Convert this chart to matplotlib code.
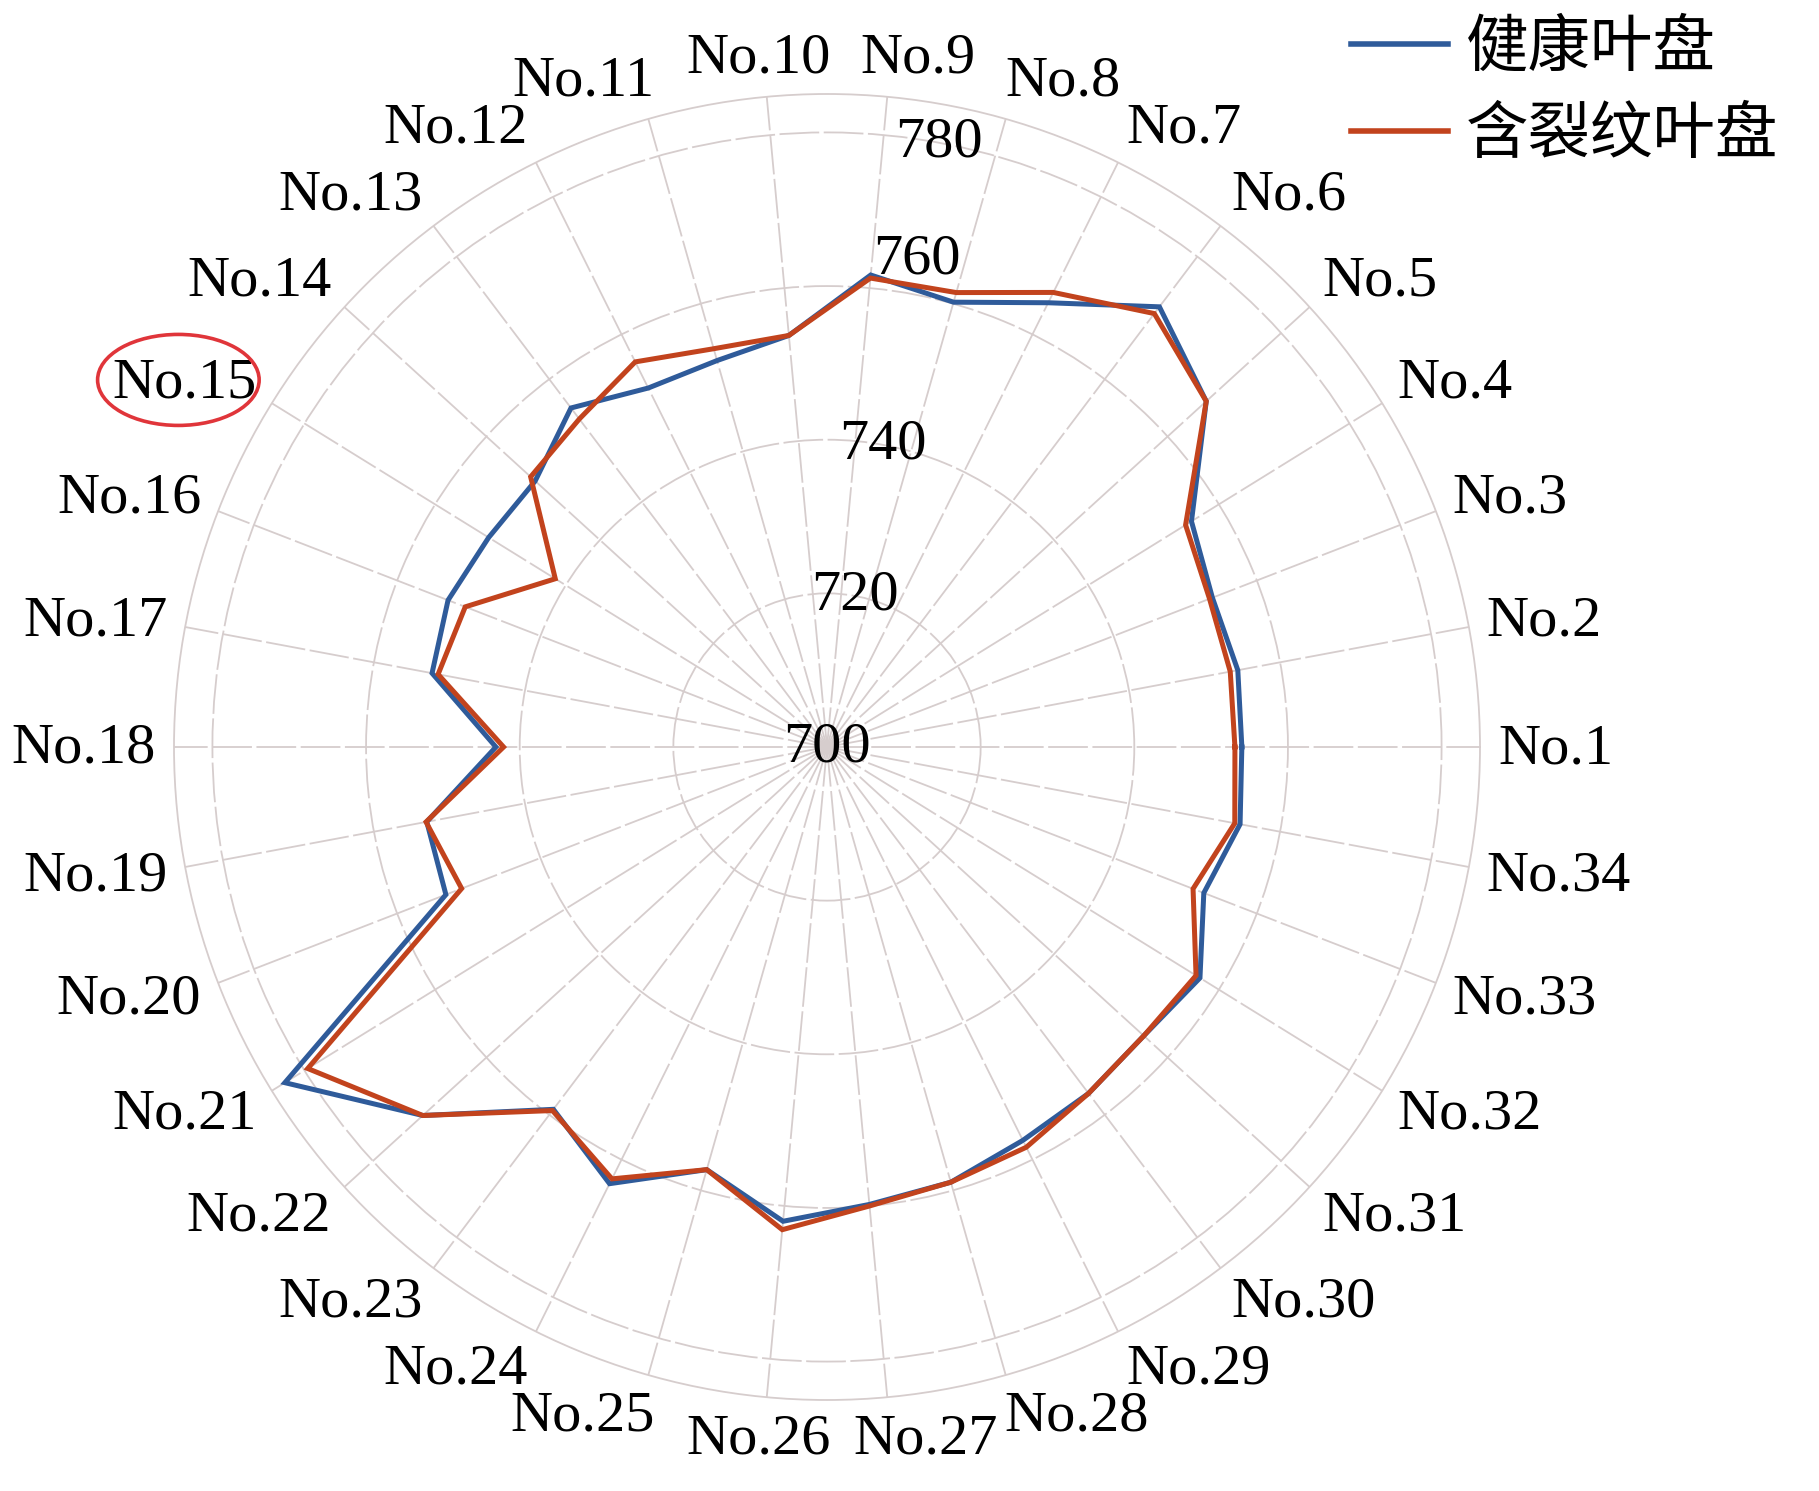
import numpy as np
import matplotlib
matplotlib.use("Agg")
import matplotlib.pyplot as plt
from matplotlib.patches import Ellipse

# ---------------- data ----------------
categories = [f"No.{i}" for i in range(1, 35)]
healthy = [754.0, 754.4, 753.8, 755.8, 766.8, 771.8, 764.6, 760.2, 761.7, 753.8,
           752.3, 752.2, 755.3, 751.4, 751.8, 752.9, 752.3, 743.1, 753.0, 753.2,
           783.0, 771.2, 759.1, 763.5, 757.2, 762.0, 759.8, 758.9, 757.2, 756.5,
           755.8, 757.1, 752.6, 754.7]
cracked = [753.1, 753.4, 753.4, 754.9, 766.8, 770.7, 766.1, 761.5, 761.3, 753.8,
           753.9, 756.0, 753.5, 752.2, 741.6, 750.5, 751.5, 742.1, 753.1, 751.0,
           779.5, 771.2, 759.3, 762.8, 757.2, 763.1, 760.0, 758.9, 758.2, 756.5,
           755.8, 756.5, 751.1, 754.0]
series_names = ["健康叶盘", "含裂纹叶盘"]
r_ticks = [700, 720, 740, 760, 780]
r_min, r_max = 700, 785
highlight = "No.15"

SERIF = ["Liberation Serif", "DejaVu Serif"]
CJK = ["Noto Sans CJK SC", "DejaVu Sans"]
BLUE = "#2f5b9a"
RED = "#c2431d"
GRID = "#d6cdcd"

W, H, DPI = 1819, 1491, 100
fig = plt.figure(figsize=(W / DPI, H / DPI), dpi=DPI)
cx, cy, R = 827, 747, 653
ax = fig.add_axes([(cx - R) / W, (H - cy - R) / H, 2 * R / W, 2 * R / H],
                  projection="polar")

n = len(categories)
angles = np.arange(n) * 2 * np.pi / n
ang_c = np.append(angles, angles[0])

ax.plot(ang_c, healthy + healthy[:1], color=BLUE, lw=3.6, label=series_names[0],
        solid_joinstyle="miter", zorder=3)
ax.plot(ang_c, cracked + cracked[:1], color=RED, lw=3.6, label=series_names[1],
        solid_joinstyle="miter", zorder=4)

ax.set_ylim(r_min, r_max)
ax.set_xticks(angles)
ax.set_xticklabels([])
ax.set_yticks(r_ticks[1:])
ax.set_yticklabels([])
ax.grid(True, color=GRID, lw=1.3, ls=(0, (22, 2.5)))
ax.spines["polar"].set_color(GRID)
ax.spines["polar"].set_linewidth(1.3)
ax.tick_params(length=0)

# radial labels
rl_ang = np.deg2rad(79.5)
for v in r_ticks:
    rr = v + 4.5 if v == 760 else v
    if v == r_min:
        ax.text(0, v, str(v), ha="center", va="center", fontsize=42,
                family=SERIF, zorder=5)
    else:
        ax.text(rl_ang, rr, str(v), ha="center", va="center", fontsize=42,
                family=SERIF, zorder=5)

# category labels
fig.canvas.draw()
renderer = fig.canvas.get_renderer()
pad = 18
h_txt = 45
hl_text = None
for ang, lab in zip(angles, categories):
    t = ax.annotate(lab, xy=(ang, r_max), xycoords="data", xytext=(0, 0),
                    textcoords="offset pixels", ha="center", va="center_baseline",
                    fontsize=42, family=SERIF, annotation_clip=False)
    w = t.get_window_extent(renderer).width
    c, s = np.cos(ang), np.sin(ang)
    g = np.clip(3.2 * c, -1, 1)
    f = g + 0.3 * (1 - abs(g))
    dx = c * pad + f * w / 2
    dy = s * (pad + h_txt / 2) + 4
    t.xyann = (dx, dy)
    if lab == highlight:
        hl_text = t

fig.canvas.draw()
bb = hl_text.get_window_extent(renderer)
ell = Ellipse(((bb.x0 + bb.x1) / 2 - 6, (bb.y0 + bb.y1) / 2 + 4),
              bb.width * 1.12, bb.height * 1.75, transform=None,
              fill=False, edgecolor="#e0353a", lw=2.6)
fig.patches.append(ell)

leg = ax.legend(loc="upper right", bbox_to_anchor=(1778 / W, 1 - 16 / H),
                bbox_transform=fig.transFigure, frameon=False,
                prop={"family": CJK, "size": 45}, handlelength=1.55,
                handletextpad=0.28, labelspacing=0.36, borderpad=0,
                borderaxespad=0)
for line in leg.get_lines():
    line.set_linewidth(4)

fig.savefig("out.png", dpi=DPI)
